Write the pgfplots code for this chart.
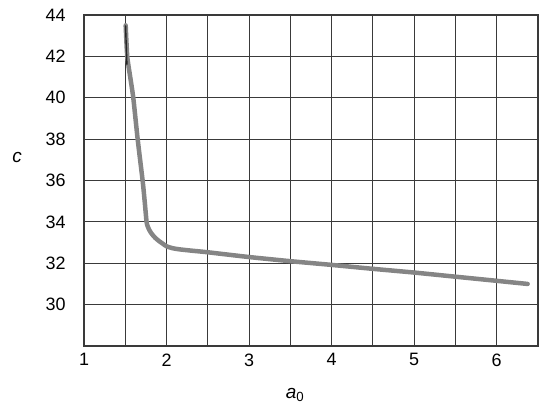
\documentclass[border=0pt]{standalone}
\usepackage{pgfplots}
\pgfplotsset{compat=1.18}
\usepackage{fontspec}
\setmainfont{Liberation Sans}

\definecolor{gridc}{HTML}{3A3A3A}
\definecolor{curvec}{HTML}{858585}

\begin{document}
\begin{tikzpicture}
\begin{axis}[
    at={(0,0)}, anchor=south west,
    scale only axis,
    width=454bp, height=331bp,
    xmin=1, xmax=6.5,
    ymin=28, ymax=44,
    xtick={1,2,...,6},
    minor xtick={1.5,2.5,3.5,4.5,5.5,6.5},
    ytick={30,32,...,44},
    xmajorgrids, xminorgrids, ymajorgrids,
    grid style={gridc, line width=1.1bp},
    minor grid style={gridc, line width=1.1bp},
    axis line style={gridc, line width=1.2bp},
    major tick length=0pt, minor tick length=0pt,
    /pgf/number format/assume math mode=true,
    ticklabel style={font=\fontsize{18}{21}\selectfont},
    yticklabel style={xshift=-15bp},
    xticklabel style={yshift=-4bp},
    clip=false,
]
% curve
\addplot[curvec, line width=4.5bp, line cap=round, line join=round, smooth, tension=0.4] coordinates {
(1.505,43.5) (1.524,42) (1.56,41) (1.597,40) (1.65,38) (1.71,36)
(1.735,35) (1.758,34) (1.772,33.78) (1.795,33.58) (1.825,33.4) (1.865,33.22)
(1.91,33.07) (1.96,32.93) (2.0,32.82) (2.07,32.73) (2.16,32.67) (2.3,32.61)
(2.5,32.53) (3.0,32.3) (3.5,32.1)
(4.0,31.92) (4.5,31.73) (5.0,31.55) (5.5,31.35) (6.0,31.15) (6.375,31.0)
};
% dark start of the curve
\addplot[black!85, line width=1.4bp] coordinates {(1.503,43.5) (1.52,41.6)};
\node[font=\fontsize{19}{22}\selectfont] at (axis description cs:-0.1476,0.568) {\textit{c}};
\node[font=\fontsize{19}{22}\selectfont] at (axis description cs:0.465,-0.148) {\textit{a}\textsubscript{0}};
\end{axis}
\path[use as bounding box] (-84bp,-67bp) rectangle (466bp,346bp);
\end{tikzpicture}
\end{document}
